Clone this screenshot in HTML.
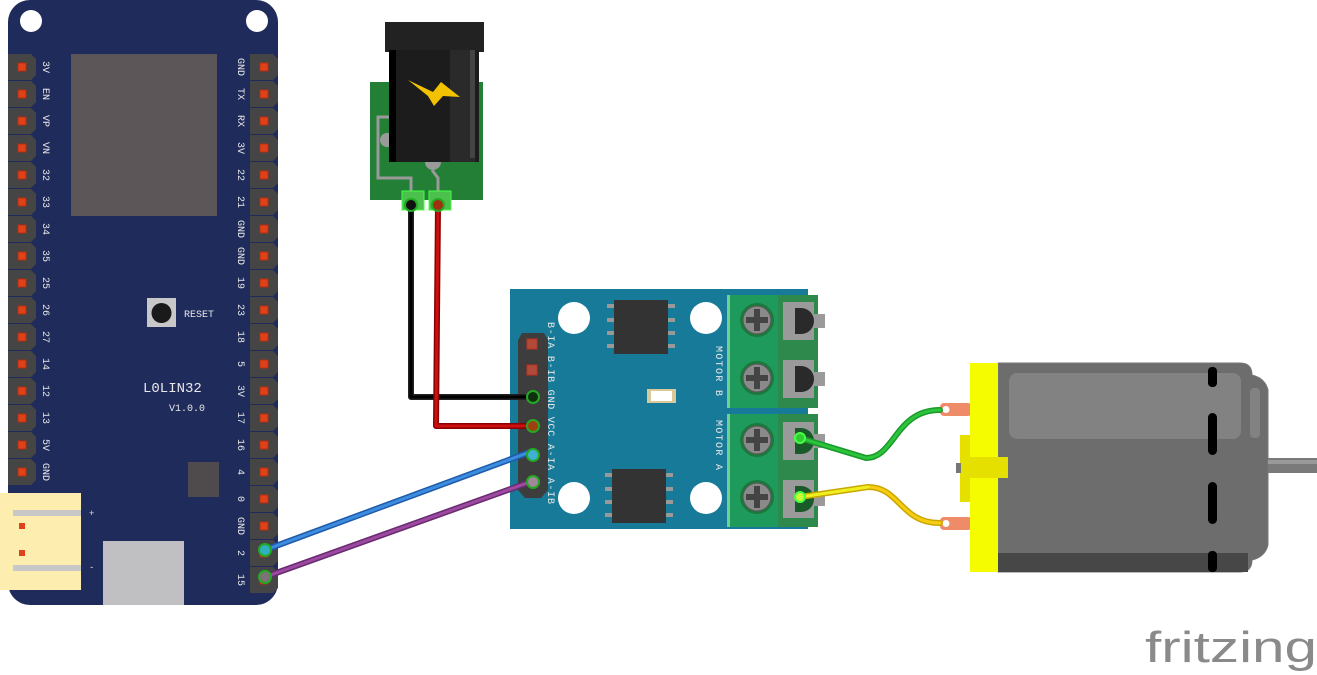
<!DOCTYPE html>
<html><head><meta charset="utf-8"><style>
html,body{margin:0;padding:0;background:#fff;width:1317px;height:675px;overflow:hidden}
svg{display:block}
.lb{font-family:"Liberation Mono",monospace;font-size:10px;fill:#e8e8e8;text-anchor:middle}
</style></head><body>
<svg width="1317" height="675" viewBox="0 0 1317 675" xmlns="http://www.w3.org/2000/svg">
<defs>
<g id="hdr"><polygon points="-14,-13 9,-13 14,-8 14,8 9,13 -14,13" fill="#454545"/><rect x="-4" y="-4" width="8" height="8" fill="#e0401a" stroke="#b03010" stroke-width="1"/></g>
</defs>
<!-- ESP32 board -->
<rect x="8" y="0" width="270" height="605" rx="22" fill="#1f2b5b"/>
<circle cx="31" cy="21" r="11" fill="#fff"/><circle cx="257" cy="21" r="11" fill="#fff"/>
<rect x="71" y="54" width="146" height="162" fill="#5c5658"/>
<g>
<use href="#hdr" x="22" y="67"/><use href="#hdr" x="22" y="94"/><use href="#hdr" x="22" y="121"/><use href="#hdr" x="22" y="148"/>
<use href="#hdr" x="22" y="175"/><use href="#hdr" x="22" y="202"/><use href="#hdr" x="22" y="229"/><use href="#hdr" x="22" y="256"/>
<use href="#hdr" x="22" y="283"/><use href="#hdr" x="22" y="310"/><use href="#hdr" x="22" y="337"/><use href="#hdr" x="22" y="364"/>
<use href="#hdr" x="22" y="391"/><use href="#hdr" x="22" y="418"/><use href="#hdr" x="22" y="445"/><use href="#hdr" x="22" y="472"/>
</g>
<g>
<use href="#hdr" x="264" y="67"/><use href="#hdr" x="264" y="94"/><use href="#hdr" x="264" y="121"/><use href="#hdr" x="264" y="148"/>
<use href="#hdr" x="264" y="175"/><use href="#hdr" x="264" y="202"/><use href="#hdr" x="264" y="229"/><use href="#hdr" x="264" y="256"/>
<use href="#hdr" x="264" y="283"/><use href="#hdr" x="264" y="310"/><use href="#hdr" x="264" y="337"/><use href="#hdr" x="264" y="364"/>
<use href="#hdr" x="264" y="391"/><use href="#hdr" x="264" y="418"/><use href="#hdr" x="264" y="445"/><use href="#hdr" x="264" y="472"/>
<use href="#hdr" x="264" y="499"/><use href="#hdr" x="264" y="526"/><use href="#hdr" x="264" y="553"/><use href="#hdr" x="264" y="580"/>
</g>
<g class="lb">
<text transform="translate(43,67) rotate(90)">3V</text><text transform="translate(43,94) rotate(90)">EN</text>
<text transform="translate(43,121) rotate(90)">VP</text><text transform="translate(43,148) rotate(90)">VN</text>
<text transform="translate(43,175) rotate(90)">32</text><text transform="translate(43,202) rotate(90)">33</text>
<text transform="translate(43,229) rotate(90)">34</text><text transform="translate(43,256) rotate(90)">35</text>
<text transform="translate(43,283) rotate(90)">25</text><text transform="translate(43,310) rotate(90)">26</text>
<text transform="translate(43,337) rotate(90)">27</text><text transform="translate(43,364) rotate(90)">14</text>
<text transform="translate(43,391) rotate(90)">12</text><text transform="translate(43,418) rotate(90)">13</text>
<text transform="translate(43,445) rotate(90)">5V</text><text transform="translate(43,472) rotate(90)">GND</text>
<text transform="translate(238,67) rotate(90)">GND</text><text transform="translate(238,94) rotate(90)">TX</text>
<text transform="translate(238,121) rotate(90)">RX</text><text transform="translate(238,148) rotate(90)">3V</text>
<text transform="translate(238,175) rotate(90)">22</text><text transform="translate(238,202) rotate(90)">21</text>
<text transform="translate(238,229) rotate(90)">GND</text><text transform="translate(238,256) rotate(90)">GND</text>
<text transform="translate(238,283) rotate(90)">19</text><text transform="translate(238,310) rotate(90)">23</text>
<text transform="translate(238,337) rotate(90)">18</text><text transform="translate(238,364) rotate(90)">5</text>
<text transform="translate(238,391) rotate(90)">3V</text><text transform="translate(238,418) rotate(90)">17</text>
<text transform="translate(238,445) rotate(90)">16</text><text transform="translate(238,472) rotate(90)">4</text>
<text transform="translate(238,499) rotate(90)">0</text><text transform="translate(238,526) rotate(90)">GND</text>
<text transform="translate(238,553) rotate(90)">2</text><text transform="translate(238,580) rotate(90)">15</text>
</g>
<rect x="147" y="298" width="29" height="29" fill="#c8c8c8"/><circle cx="161.5" cy="313" r="10" fill="#1a1a1a"/>
<text x="184" y="317" font-family="Liberation Mono,monospace" font-size="10" fill="#e8e8e8">RESET</text>
<text x="143" y="392" font-family="Liberation Mono,monospace" font-size="14" fill="#e8e8e8">L0LIN32</text>
<text x="169" y="411" font-family="Liberation Mono,monospace" font-size="10" fill="#e8e8e8">V1.0.0</text>
<rect x="188" y="462" width="31" height="35" fill="#4f4a4c"/>
<rect x="0" y="493" width="81" height="97" fill="#fdeeb0"/>
<rect x="13" y="510" width="68" height="6" fill="#c8c8c8"/><rect x="13" y="565" width="68" height="6" fill="#c8c8c8"/>
<rect x="19" y="523" width="6" height="6" fill="#e0401a"/><rect x="19" y="550" width="6" height="6" fill="#e0401a"/>
<text x="89" y="516" font-family="Liberation Mono" font-size="9" fill="#ddd">+</text>
<text x="89" y="570" font-family="Liberation Mono" font-size="9" fill="#ddd">-</text>
<rect x="103" y="541" width="81" height="64" fill="#c0c0c2"/>

<!-- Power jack -->
<rect x="370" y="82" width="113" height="118" fill="#237f36"/>
<path d="M411,200 V178 H378 V117 H393 M438,200 V178 L432,170" stroke="#9a9a9a" stroke-width="3" fill="none"/>
<circle cx="387" cy="140" r="7" fill="#9a9a9a"/><circle cx="433" cy="162" r="8" fill="#9a9a9a"/>
<rect x="385" y="22" width="99" height="30" fill="#222"/>
<rect x="389" y="50" width="90" height="112" fill="#1c1c1c"/>
<rect x="389" y="50" width="7" height="112" fill="#000"/>
<rect x="450" y="50" width="25" height="112" fill="#2a2a2a"/>
<rect x="470" y="50" width="5" height="108" fill="#444"/>
<polygon points="408,80 433,92 441,82 460,97 443,96 434,106 428,96" fill="#f2c200"/>
<rect x="402" y="191" width="22" height="19" fill="#4cc04c" stroke="#4f4" stroke-width="1"/>
<rect x="429" y="191" width="22" height="19" fill="#4cc04c" stroke="#4f4" stroke-width="1"/>

<!-- Driver board -->
<rect x="510" y="289" width="298" height="240" fill="#177a99"/>
<circle cx="574" cy="318" r="16" fill="#fff"/><circle cx="706" cy="318" r="16" fill="#fff"/>
<circle cx="574" cy="498" r="16" fill="#fff"/><circle cx="706" cy="498" r="16" fill="#fff"/>
<g fill="#999">
<rect x="607" y="304" width="7" height="4"/><rect x="607" y="318" width="7" height="4"/><rect x="607" y="331" width="7" height="4"/><rect x="607" y="344" width="7" height="4"/>
<rect x="668" y="304" width="7" height="4"/><rect x="668" y="318" width="7" height="4"/><rect x="668" y="331" width="7" height="4"/><rect x="668" y="344" width="7" height="4"/>
<rect x="605" y="473" width="7" height="4"/><rect x="605" y="487" width="7" height="4"/><rect x="605" y="500" width="7" height="4"/><rect x="605" y="513" width="7" height="4"/>
<rect x="666" y="473" width="7" height="4"/><rect x="666" y="487" width="7" height="4"/><rect x="666" y="500" width="7" height="4"/><rect x="666" y="513" width="7" height="4"/>
</g>
<rect x="614" y="300" width="54" height="54" fill="#333"/>
<rect x="612" y="469" width="54" height="54" fill="#333"/>
<rect x="647" y="389" width="29" height="14" fill="#d8c89a"/><rect x="651" y="391" width="21" height="10" fill="#fff"/>
<g fill="#3d3d3d">
<polygon points="522,333 544,333 548,340 548,358 518,358 518,340"/>
<rect x="518" y="358" width="30" height="26"/><rect x="518" y="384" width="30" height="28"/>
<rect x="518" y="412" width="30" height="28"/><rect x="518" y="440" width="30" height="28"/>
<polygon points="518,468 548,468 548,490 541,498 525,498 518,490"/>
</g>
<rect x="527" y="339" width="10" height="10" fill="#b04a3a" stroke="#c03020"/>
<rect x="527" y="365" width="10" height="10" fill="#b04a3a" stroke="#c03020"/>
<g class="lb" style="font-size:10px;text-anchor:start">
<text transform="translate(548,322) rotate(90)" textLength="182" lengthAdjust="spacing">B-IA B-IB GND VCC A-IA A-IB</text>
<text transform="translate(716,346) rotate(90)" textLength="50" lengthAdjust="spacing">MOTOR B</text>
<text transform="translate(716,420) rotate(90)" textLength="50" lengthAdjust="spacing">MOTOR A</text>
</g>
<rect x="727" y="295" width="51" height="113" fill="#1e9a5c"/><rect x="727" y="414" width="51" height="113" fill="#1e9a5c"/>
<rect x="727" y="295" width="3" height="113" fill="#6fcf95"/><rect x="727" y="414" width="3" height="113" fill="#6fcf95"/>
<rect x="778" y="295" width="40" height="113" fill="#2e8a4c"/><rect x="778" y="414" width="40" height="113" fill="#2e8a4c"/>
<g>
<circle cx="757" cy="320" r="17" fill="#1a7a3c"/><circle cx="757" cy="320" r="14" fill="#8a8a8a" stroke="#555"/>
<circle cx="757" cy="378" r="17" fill="#1a7a3c"/><circle cx="757" cy="378" r="14" fill="#8a8a8a" stroke="#555"/>
<circle cx="757" cy="440" r="17" fill="#1a7a3c"/><circle cx="757" cy="440" r="14" fill="#8a8a8a" stroke="#555"/>
<circle cx="757" cy="497" r="17" fill="#1a7a3c"/><circle cx="757" cy="497" r="14" fill="#8a8a8a" stroke="#555"/>
</g>
<g fill="#444">
<rect x="746" y="317" width="22" height="6"/><rect x="754" y="309" width="6" height="22"/>
<rect x="746" y="375" width="22" height="6"/><rect x="754" y="367" width="6" height="22"/>
<rect x="746" y="437" width="22" height="6"/><rect x="754" y="429" width="6" height="22"/>
<rect x="746" y="494" width="22" height="6"/><rect x="754" y="486" width="6" height="22"/>
</g>
<g fill="#9a9a9a">
<rect x="783" y="302" width="31" height="38"/><rect x="813" y="314" width="12" height="14"/>
<rect x="783" y="360" width="31" height="38"/><rect x="813" y="372" width="12" height="14"/>
<rect x="783" y="422" width="31" height="38"/><rect x="813" y="434" width="12" height="14"/>
<rect x="783" y="480" width="31" height="38"/><rect x="813" y="492" width="12" height="14"/>
</g>
<g fill="#2a2a2a">
<path d="M795,308 h6 a12,12 0 0 1 0,26 h-6 z"/><path d="M795,366 h6 a12,12 0 0 1 0,26 h-6 z"/>
<path d="M795,428 h6 a12,12 0 0 1 0,26 h-6 z" fill="#1a5a2a"/><path d="M795,486 h6 a12,12 0 0 1 0,26 h-6 z" fill="#1a5a2a"/>
</g>

<!-- Motor -->
<rect x="940" y="403" width="32" height="13" rx="4" fill="#ee8c6a"/><circle cx="946" cy="409.5" r="3.5" fill="#fff"/>
<rect x="940" y="517" width="32" height="13" rx="4" fill="#ee8c6a"/><circle cx="946" cy="523.5" r="3.5" fill="#fff"/>
<path d="M998,363 H1240 Q1252,363 1252,375 Q1265,378 1268,390 V545 Q1265,557 1252,560 Q1252,572 1240,572 H998 Z" fill="#6d6d6d" stroke="#777"/>
<rect x="998" y="553" width="250" height="19" fill="#474747"/>
<rect x="1009" y="373" width="232" height="66" rx="8" fill="#828282"/>
<rect x="1250" y="388" width="10" height="50" rx="4" fill="#828282"/>
<rect x="1208" y="367" width="9" height="20" rx="4" fill="#000"/>
<rect x="1208" y="413" width="9" height="42" rx="4.5" fill="#000"/>
<rect x="1208" y="482" width="9" height="42" rx="4.5" fill="#000"/>
<rect x="1208" y="551" width="9" height="21" rx="4" fill="#000"/>
<rect x="1268" y="458" width="49" height="15" fill="#7a7a7a"/><rect x="1268" y="460" width="49" height="4" fill="#999"/>
<rect x="960" y="435" width="12" height="67" fill="#e6e000"/>
<rect x="956" y="463" width="5" height="10" fill="#777"/>
<rect x="970" y="363" width="28" height="209" fill="#f5fc00"/>
<rect x="970" y="457" width="38" height="21" fill="#e6e000"/>

<!-- Wires -->
<g fill="none" stroke-linecap="round" stroke-linejoin="round">
<path d="M411,205 V397 H530" stroke="#222" stroke-width="6"/><path d="M411,205 V397 H530" stroke="#000" stroke-width="3"/>
<path d="M438,205 L436,426 H530" stroke="#8a0000" stroke-width="6"/><path d="M438,205 L436,426 H530" stroke="#cc1010" stroke-width="3"/>
<path d="M265,550 L530,452" stroke="#1e5aa8" stroke-width="6"/><path d="M265,550 L530,452" stroke="#3c8ce0" stroke-width="3"/>
<path d="M265,577 L530,482" stroke="#6a2a70" stroke-width="6"/><path d="M265,577 L530,482" stroke="#9c4aa0" stroke-width="3"/>
<path d="M800,438 L866,458 C895,458 895,410 940,410" stroke="#1a9a2a" stroke-width="6"/><path d="M800,438 L866,458 C895,458 895,410 940,410" stroke="#2cc43c" stroke-width="3"/>
<path d="M800,497 L868,487 C900,487 900,523 940,523" stroke="#c8a800" stroke-width="6"/><path d="M868,487 C900,487 900,523 940,523" stroke="#f8cc10" stroke-width="3"/>
<path d="M800,497 L868,487" stroke="#f0f020" stroke-width="3"/>
</g>
<g stroke="#2a2" stroke-width="2">
<circle cx="411" cy="205" r="6" fill="#111"/><circle cx="438" cy="205" r="6" fill="#a03010"/>
<circle cx="533" cy="397" r="6" fill="#103010"/><circle cx="533" cy="426" r="6" fill="#a04010"/>
<circle cx="533" cy="455" r="6" fill="#40b0d0"/><circle cx="533" cy="482" r="6" fill="#a08898"/>
<circle cx="265" cy="550" r="6" fill="#30b0c0"/><circle cx="265" cy="577" r="6" fill="#807078"/>
<circle cx="800" cy="438" r="5" fill="#3c3" stroke="#4f4"/><circle cx="800" cy="497" r="5" fill="#cf3" stroke="#4f4"/>
</g>
<text x="1145" y="662" font-family="Liberation Sans,sans-serif" font-size="44" fill="#8a8a8a" textLength="172" lengthAdjust="spacingAndGlyphs">fritzing</text>
</svg>
</body></html>
